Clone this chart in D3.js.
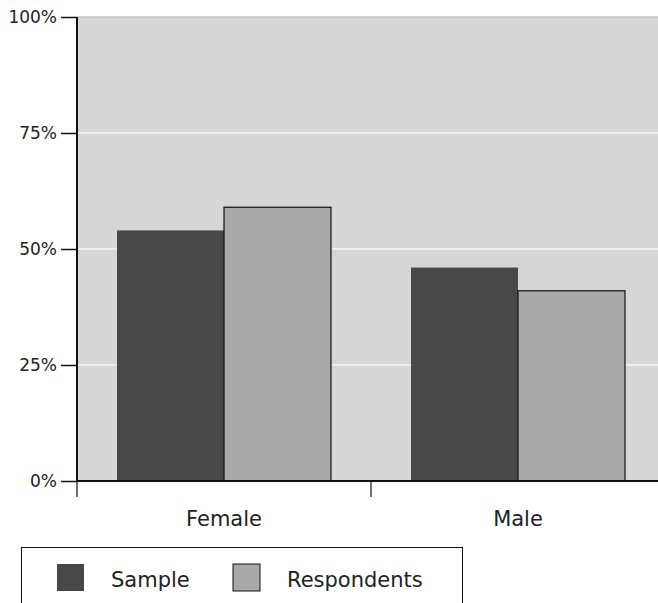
<!DOCTYPE html>
<html><head><meta charset="utf-8">
<script src="https://cdn.jsdelivr.net/npm/d3@7"></script>
<style>
html,body{margin:0;padding:0;background:#fff;}
svg{display:block;font-family:"DejaVu Sans",sans-serif;}
</style></head>
<body><svg id="chart" width="658" height="603"></svg>
<script>
const categories = ["Female", "Male"];
const seriesNames = ["Sample", "Respondents"];
const sampleValues = [54, 46];
const respondentValues = [59, 41];
const yTicks = [0, 25, 50, 75, 100];

(function(){
const colors = {Sample: "#484848", Respondents: "#a9a9a9"};
const svg = d3.select("#chart");
const mLeft = 77, mTop = 17, mBottom = 481, mRight = 665;

const x = d3.scaleBand().domain(categories).range([mLeft, mRight]).paddingInner(0).paddingOuter(0);
const x1 = d3.scaleBand().domain(seriesNames).range([40, x.bandwidth() - 40]);
const y = d3.scaleLinear().domain([0, 100]).range([mBottom, mTop]);

svg.append("rect").attr("x", mLeft).attr("y", mTop).attr("width", 658 - mLeft).attr("height", mBottom - mTop).attr("fill", "#d6d6d6");

svg.append("g").selectAll("line").data(yTicks.filter(d => d > 0)).join("line")
  .attr("x1", mLeft).attr("x2", 658).attr("y1", d => y(d)).attr("y2", d => y(d))
  .attr("stroke", d => d === 100 ? "#c4c4c4" : "#f4f4f4").attr("stroke-width", 1.5);

const data = categories.map((c, i) => ({cat: c, values: [
  {s: "Sample", v: sampleValues[i]}, {s: "Respondents", v: respondentValues[i]}]}));

const groups = svg.append("g").selectAll("g").data(data).join("g")
  .attr("transform", d => `translate(${x(d.cat)},0)`);
groups.selectAll("rect").data(d => d.values).join("rect")
  .attr("x", d => x1(d.s)).attr("width", x1.bandwidth())
  .attr("y", d => y(d.v)).attr("height", d => y(0) - y(d.v))
  .attr("fill", d => colors[d.s])
  .attr("stroke", d => d.s === "Respondents" ? "#111" : "none")
  .attr("stroke-width", 1.2);

const yAxis = d3.axisLeft(y).tickValues(yTicks).tickFormat(d => d + "%").tickSize(16).tickPadding(4);
const gy = svg.append("g").attr("transform", `translate(${mLeft},0)`).call(yAxis);
gy.attr("font-family", "DejaVu Sans");
gy.select(".domain").attr("stroke", "#111").attr("stroke-width", 2).attr("d", `M0,${mTop}V${mBottom}`);
gy.selectAll(".tick line").attr("stroke", "#111").attr("stroke-width", 1.5);
gy.selectAll(".tick text").attr("font-size", 17).attr("fill", "#222");

svg.append("line").attr("x1", mLeft).attr("x2", 658).attr("y1", mBottom).attr("y2", mBottom)
  .attr("stroke", "#111").attr("stroke-width", 2);
svg.append("g").selectAll("line").data(categories).join("line")
  .attr("x1", d => x(d)).attr("x2", d => x(d)).attr("y1", mBottom).attr("y2", mBottom + 16)
  .attr("stroke", "#111").attr("stroke-width", 1.2);
svg.append("g").selectAll("text").data(categories).join("text")
  .attr("x", d => x(d) + x.bandwidth() / 2).attr("y", 526)
  .attr("text-anchor", "middle").attr("font-size", 21).attr("fill", "#222").text(d => d);

const lg = svg.append("g");
lg.append("rect").attr("x", 21.5).attr("y", 547.5).attr("width", 441).attr("height", 70)
  .attr("fill", "#fff").attr("stroke", "#111").attr("stroke-width", 1);
const legendX = d3.scaleOrdinal().domain(seriesNames).range([57, 233]);
const li = lg.selectAll("g").data(seriesNames).join("g")
  .attr("transform", d => `translate(${legendX(d)},564)`);
li.append("rect").attr("width", 27).attr("height", 27)
  .attr("fill", d => colors[d]).attr("stroke", d => d === "Respondents" ? "#111" : "none");
li.append("text").attr("x", 54).attr("y", 23).attr("font-size", 21).attr("fill", "#222").text(d => d);
})();
</script></body></html>
